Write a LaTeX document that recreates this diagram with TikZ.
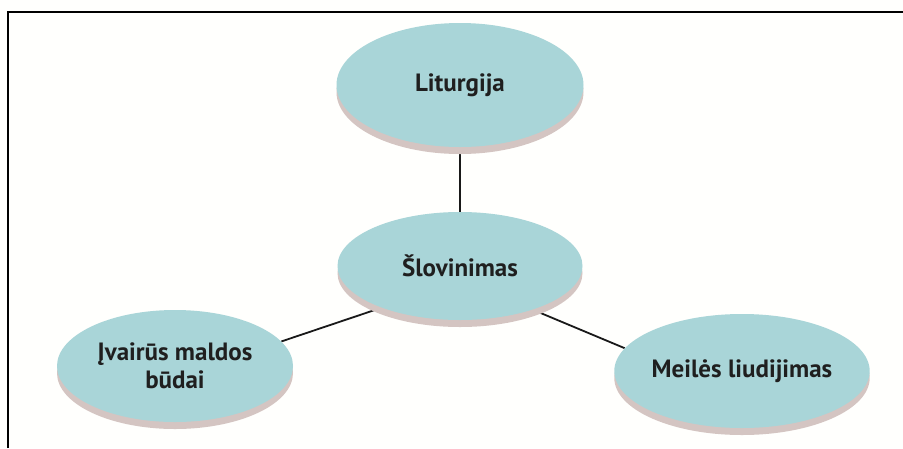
\documentclass[tikz,border=0pt]{standalone}
\usepackage{fontspec}
\setmainfont{PT Sans}
\usetikzlibrary{shapes.geometric}
\definecolor{discfill}{HTML}{A9D5D8}
\definecolor{discedge}{HTML}{D4C5C2}
\definecolor{pagebg}{HTML}{FFFFFD}
\pgfdeclarelayer{background}
\pgfsetlayers{background,main}
\tikzset{
  disc/.style={ellipse, fill=discfill, inner sep=0pt, align=center,
    font=\bfseries\fontsize{25}{28}\selectfont, text=black!88,
    preaction={fill=discedge, transform canvas={yshift=-7pt}}},
  link/.style={line width=1.8pt, black!90}
}
\begin{document}
\begin{tikzpicture}[x=1pt, y=-1pt]
  \useasboundingbox (0,0) rectangle (903,448);
  % discs
  \node[disc, minimum width=247pt, minimum height=124pt] (lit) at (460,85) {Liturgija};
  \node[disc, minimum width=245pt, minimum height=108pt] (slo) at (460,266) {Šlovinimas};
  \node[disc, minimum width=236pt, minimum height=112pt] (mal) at (175,366) {Įvairūs maldos\\būdai};
  \node[disc, minimum width=241pt, minimum height=114pt] (mei) at (742,371) {Meilės liudijimas};
  \begin{pgfonlayer}{background}
    \fill[pagebg] (0,0) rectangle (903,448);
    % frame
    \draw[line width=2.2pt] (8,448) -- (8,12) -- (903,12);
    % connectors, tucked under the discs
    \draw[link] (lit.south) -- (slo.north);
    \draw[link] (slo.-152) -- (mal.13);
    \draw[link] (slo.-31) -- (mei.169);
  \end{pgfonlayer}
\end{tikzpicture}
\end{document}
